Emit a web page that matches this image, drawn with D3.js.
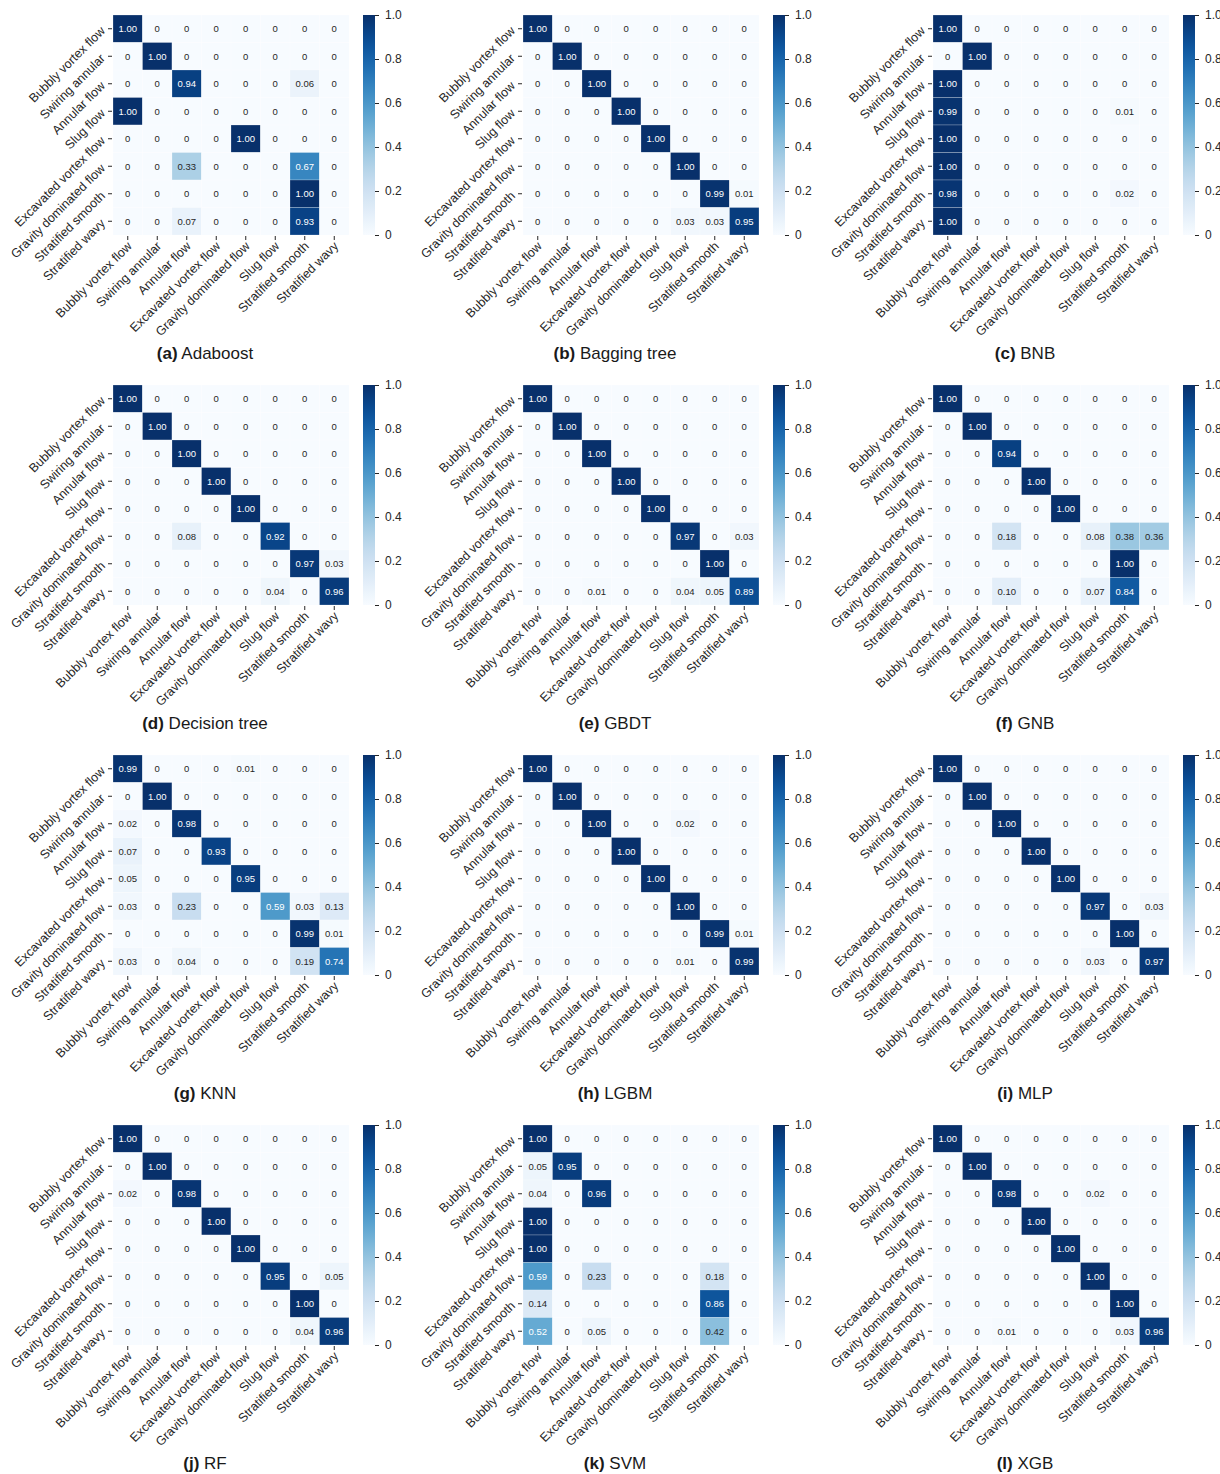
<!DOCTYPE html>
<html>
<head>
<meta charset="utf-8">
<script src="https://cdn.jsdelivr.net/npm/d3@7"></script>
<style>
  html, body { margin: 0; padding: 0; background: #ffffff; }
  svg { display: block; font-family: "Liberation Sans", Arial, sans-serif; }
</style>
</head>
<body>
<svg id="fig" width="1220" height="1474"></svg>
<script>
// Row (true) and column (predicted) class labels
const rowLabels = ["Bubbly vortex flow", "Swiring annular", "Annular flow", "Slug flow",
  "Excavated vortex flow", "Gravity dominated flow", "Stratified smooth", "Stratified wavy"];
const colLabels = ["Bubbly vortex flow", "Swiring annular", "Annular flow", "Excavated vortex flow",
  "Gravity dominated flow", "Slug flow", "Stratified smooth", "Stratified wavy"];
const colorbarTicks = [0, 0.2, 0.4, 0.6, 0.8, 1.0];

// Normalised confusion matrices, one per classifier
const adaboost = [
  [1.00, 0, 0, 0, 0, 0, 0, 0],
  [0, 1.00, 0, 0, 0, 0, 0, 0],
  [0, 0, 0.94, 0, 0, 0, 0.06, 0],
  [1.00, 0, 0, 0, 0, 0, 0, 0],
  [0, 0, 0, 0, 1.00, 0, 0, 0],
  [0, 0, 0.33, 0, 0, 0, 0.67, 0],
  [0, 0, 0, 0, 0, 0, 1.00, 0],
  [0, 0, 0.07, 0, 0, 0, 0.93, 0]
];
const baggingTree = [
  [1.00, 0, 0, 0, 0, 0, 0, 0],
  [0, 1.00, 0, 0, 0, 0, 0, 0],
  [0, 0, 1.00, 0, 0, 0, 0, 0],
  [0, 0, 0, 1.00, 0, 0, 0, 0],
  [0, 0, 0, 0, 1.00, 0, 0, 0],
  [0, 0, 0, 0, 0, 1.00, 0, 0],
  [0, 0, 0, 0, 0, 0, 0.99, 0.01],
  [0, 0, 0, 0, 0, 0.03, 0.03, 0.95]
];
const bnb = [
  [1.00, 0, 0, 0, 0, 0, 0, 0],
  [0, 1.00, 0, 0, 0, 0, 0, 0],
  [1.00, 0, 0, 0, 0, 0, 0, 0],
  [0.99, 0, 0, 0, 0, 0, 0.01, 0],
  [1.00, 0, 0, 0, 0, 0, 0, 0],
  [1.00, 0, 0, 0, 0, 0, 0, 0],
  [0.98, 0, 0, 0, 0, 0, 0.02, 0],
  [1.00, 0, 0, 0, 0, 0, 0, 0]
];
const decisionTree = [
  [1.00, 0, 0, 0, 0, 0, 0, 0],
  [0, 1.00, 0, 0, 0, 0, 0, 0],
  [0, 0, 1.00, 0, 0, 0, 0, 0],
  [0, 0, 0, 1.00, 0, 0, 0, 0],
  [0, 0, 0, 0, 1.00, 0, 0, 0],
  [0, 0, 0.08, 0, 0, 0.92, 0, 0],
  [0, 0, 0, 0, 0, 0, 0.97, 0.03],
  [0, 0, 0, 0, 0, 0.04, 0, 0.96]
];
const gbdt = [
  [1.00, 0, 0, 0, 0, 0, 0, 0],
  [0, 1.00, 0, 0, 0, 0, 0, 0],
  [0, 0, 1.00, 0, 0, 0, 0, 0],
  [0, 0, 0, 1.00, 0, 0, 0, 0],
  [0, 0, 0, 0, 1.00, 0, 0, 0],
  [0, 0, 0, 0, 0, 0.97, 0, 0.03],
  [0, 0, 0, 0, 0, 0, 1.00, 0],
  [0, 0, 0.01, 0, 0, 0.04, 0.05, 0.89]
];
const gnb = [
  [1.00, 0, 0, 0, 0, 0, 0, 0],
  [0, 1.00, 0, 0, 0, 0, 0, 0],
  [0, 0, 0.94, 0, 0, 0, 0, 0],
  [0, 0, 0, 1.00, 0, 0, 0, 0],
  [0, 0, 0, 0, 1.00, 0, 0, 0],
  [0, 0, 0.18, 0, 0, 0.08, 0.38, 0.36],
  [0, 0, 0, 0, 0, 0, 1.00, 0],
  [0, 0, 0.10, 0, 0, 0.07, 0.84, 0]
];
const knn = [
  [0.99, 0, 0, 0, 0.01, 0, 0, 0],
  [0, 1.00, 0, 0, 0, 0, 0, 0],
  [0.02, 0, 0.98, 0, 0, 0, 0, 0],
  [0.07, 0, 0, 0.93, 0, 0, 0, 0],
  [0.05, 0, 0, 0, 0.95, 0, 0, 0],
  [0.03, 0, 0.23, 0, 0, 0.59, 0.03, 0.13],
  [0, 0, 0, 0, 0, 0, 0.99, 0.01],
  [0.03, 0, 0.04, 0, 0, 0, 0.19, 0.74]
];
const lgbm = [
  [1.00, 0, 0, 0, 0, 0, 0, 0],
  [0, 1.00, 0, 0, 0, 0, 0, 0],
  [0, 0, 1.00, 0, 0, 0.02, 0, 0],
  [0, 0, 0, 1.00, 0, 0, 0, 0],
  [0, 0, 0, 0, 1.00, 0, 0, 0],
  [0, 0, 0, 0, 0, 1.00, 0, 0],
  [0, 0, 0, 0, 0, 0, 0.99, 0.01],
  [0, 0, 0, 0, 0, 0.01, 0, 0.99]
];
const mlp = [
  [1.00, 0, 0, 0, 0, 0, 0, 0],
  [0, 1.00, 0, 0, 0, 0, 0, 0],
  [0, 0, 1.00, 0, 0, 0, 0, 0],
  [0, 0, 0, 1.00, 0, 0, 0, 0],
  [0, 0, 0, 0, 1.00, 0, 0, 0],
  [0, 0, 0, 0, 0, 0.97, 0, 0.03],
  [0, 0, 0, 0, 0, 0, 1.00, 0],
  [0, 0, 0, 0, 0, 0.03, 0, 0.97]
];
const rf = [
  [1.00, 0, 0, 0, 0, 0, 0, 0],
  [0, 1.00, 0, 0, 0, 0, 0, 0],
  [0.02, 0, 0.98, 0, 0, 0, 0, 0],
  [0, 0, 0, 1.00, 0, 0, 0, 0],
  [0, 0, 0, 0, 1.00, 0, 0, 0],
  [0, 0, 0, 0, 0, 0.95, 0, 0.05],
  [0, 0, 0, 0, 0, 0, 1.00, 0],
  [0, 0, 0, 0, 0, 0, 0.04, 0.96]
];
const svm = [
  [1.00, 0, 0, 0, 0, 0, 0, 0],
  [0.05, 0.95, 0, 0, 0, 0, 0, 0],
  [0.04, 0, 0.96, 0, 0, 0, 0, 0],
  [1.00, 0, 0, 0, 0, 0, 0, 0],
  [1.00, 0, 0, 0, 0, 0, 0, 0],
  [0.59, 0, 0.23, 0, 0, 0, 0.18, 0],
  [0.14, 0, 0, 0, 0, 0, 0.86, 0],
  [0.52, 0, 0.05, 0, 0, 0, 0.42, 0]
];
const xgb = [
  [1.00, 0, 0, 0, 0, 0, 0, 0],
  [0, 1.00, 0, 0, 0, 0, 0, 0],
  [0, 0, 0.98, 0, 0, 0.02, 0, 0],
  [0, 0, 0, 1.00, 0, 0, 0, 0],
  [0, 0, 0, 0, 1.00, 0, 0, 0],
  [0, 0, 0, 0, 0, 1.00, 0, 0],
  [0, 0, 0, 0, 0, 0, 1.00, 0],
  [0, 0, 0.01, 0, 0, 0, 0.03, 0.96]
];

const panelLetters = ["a", "b", "c", "d", "e", "f", "g", "h", "i", "j", "k", "l"];
const panelNames = ["Adaboost", "Bagging tree", "BNB", "Decision tree", "GBDT", "GNB",
  "KNN", "LGBM", "MLP", "RF", "SVM", "XGB"];
const matrices = [adaboost, baggingTree, bnb, decisionTree, gbdt, gnb,
  knn, lgbm, mlp, rf, svm, xgb];

// ---- layout ----
const panelW = 410, panelH = 370;
const heatX = 113, heatY = 15, heatW = 236, heatH = 220;
const cbX = 363, cbW = 12;
const titleY = 359, titleCX = 205;
const labelFont = "Liberation Sans, Arial, sans-serif";

const svg = d3.select("#fig");
const color = d3.scaleSequential(d3.interpolateBlues).domain([0, 1]);

// seaborn-style annotation colour: white on dark cells, near-black otherwise
function relLum(c) {
  const rgb = d3.rgb(c);
  const f = v => { v /= 255; return v <= 0.03928 ? v / 12.92 : Math.pow((v + 0.055) / 1.055, 2.4); };
  return 0.2126 * f(rgb.r) + 0.7152 * f(rgb.g) + 0.0722 * f(rgb.b);
}
const fmt = v => v === 0 ? "0" : v.toFixed(2);

// shared gradient for the colour bars
const defs = svg.append("defs");
const grad = defs.append("linearGradient").attr("id", "blues")
  .attr("x1", 0).attr("y1", 1).attr("x2", 0).attr("y2", 0);
d3.range(0, 1.0001, 0.05).forEach(t => {
  grad.append("stop").attr("offset", t).attr("stop-color", color(t));
});

matrices.forEach((m, k) => {
  const ox = (k % 3) * panelW, oy = Math.floor(k / 3) * panelH;
  const g = svg.append("g").attr("transform", `translate(${ox},${oy})`);

  const x = d3.scaleBand().domain(colLabels).range([heatX, heatX + heatW]);
  const y = d3.scaleBand().domain(rowLabels).range([heatY, heatY + heatH]);

  const cells = [];
  m.forEach((row, i) => row.forEach((v, j) => cells.push({ r: rowLabels[i], c: colLabels[j], v })));

  g.append("g").selectAll("rect").data(cells).join("rect")
    .attr("x", d => x(d.c)).attr("y", d => y(d.r))
    .attr("width", x.bandwidth()).attr("height", y.bandwidth())
    .attr("fill", d => color(d.v))
    .attr("stroke", "#ffffff").attr("stroke-width", 0.5).attr("stroke-opacity", 0.45);

  g.append("g").selectAll("text").data(cells).join("text")
    .attr("x", d => x(d.c) + x.bandwidth() / 2)
    .attr("y", d => y(d.r) + y.bandwidth() / 2)
    .attr("text-anchor", "middle").attr("dominant-baseline", "central")
    .attr("font-size", 9.5)
    .attr("fill", d => relLum(color(d.v)) > 0.408 ? "#262626" : "#ffffff")
    .text(d => fmt(d.v));

  // y axis (true class)
  const yAx = g.append("g").attr("transform", `translate(${heatX},0)`)
    .call(d3.axisLeft(y).tickSize(4).tickPadding(4));
  yAx.select(".domain").remove();
  yAx.selectAll(".tick line").attr("stroke", "#262626").attr("stroke-width", 1).attr("x1", -1).attr("x2", -5);
  yAx.selectAll(".tick text")
    .attr("x", 0).attr("dy", null).attr("dominant-baseline", "central")
    .attr("transform", "translate(-10,0) rotate(-45)")
    .attr("text-anchor", "end")
    .attr("font-size", 12.5).attr("font-family", labelFont)
    .attr("fill", "#262626");

  // x axis (predicted class)
  const xAx = g.append("g").attr("transform", `translate(0,${heatY + heatH})`)
    .call(d3.axisBottom(x).tickSize(4).tickPadding(4));
  xAx.select(".domain").remove();
  xAx.selectAll(".tick line").attr("stroke", "#262626").attr("stroke-width", 1).attr("y1", 1).attr("y2", 5);
  xAx.selectAll(".tick text")
    .attr("y", 0).attr("dy", null).attr("dominant-baseline", "central")
    .attr("transform", "translate(2,9) rotate(-45)")
    .attr("text-anchor", "end")
    .attr("font-size", 12.5).attr("font-family", labelFont)
    .attr("fill", "#262626");

  // colour bar
  const cb = d3.scaleLinear().domain([0, 1]).range([heatY + heatH, heatY]);
  g.append("rect").attr("x", cbX).attr("y", heatY).attr("width", cbW).attr("height", heatH)
    .attr("fill", "url(#blues)");
  const cbAx = g.append("g").attr("transform", `translate(${cbX + cbW},0)`)
    .call(d3.axisRight(cb).tickValues(colorbarTicks).tickSize(4).tickPadding(6)
      .tickFormat(v => v === 0 ? "0" : d3.format(".1f")(v)));
  cbAx.select(".domain").remove();
  cbAx.selectAll(".tick line").attr("stroke", "#262626");
  cbAx.selectAll(".tick text").attr("font-size", 12).attr("fill", "#262626")
    .attr("font-family", labelFont);

  // panel caption
  const t = g.append("text").attr("x", titleCX).attr("y", titleY)
    .attr("text-anchor", "middle").attr("font-size", 17).attr("fill", "#1a1a1a");
  t.append("tspan").attr("font-weight", "bold").text(`(${panelLetters[k]})`);
  t.append("tspan").text(" " + panelNames[k]);
});
</script>
</body>
</html>
